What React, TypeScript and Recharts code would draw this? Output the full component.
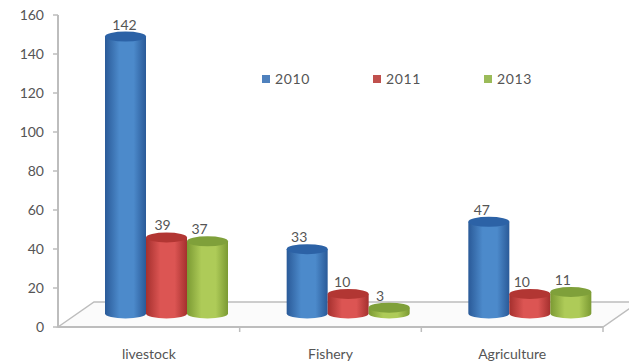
import { BarChart, Bar, XAxis, YAxis, Legend, LabelList, ReferenceArea } from "recharts"

const categories = ["livestock", "Fishery", "Agriculture"]
const years = ["2010", "2011", "2013"]
const values2010 = [142, 33, 47]
const values2011 = [39, 10, 10]
const values2013 = [37, 3, 11]
const yTicks = [0, 20, 40, 60, 80, 100, 120, 140, 160]

const data = categories.map((name, i) => ({
  name,
  "2010": values2010[i],
  "2011": values2011[i],
  "2013": values2013[i],
}))

const FONT = "Lato, sans-serif"
const TEXT = "#555"
const AXIS = "#bdbdbd"

// the floor is a parallelogram, bars stand halfway back on it
const FLOOR_VALUE = 13
const DEPTH_X = 36
const DEPTH_Y = 25
const SHIFT_X = DEPTH_X / 2
const SHIFT_Y = DEPTH_Y / 2 + 1
const RY = 5

const palette: Record<string, { id: string; key: string; edge: string; mid: string; top: string }> = {
  "2010": { id: "cylBlue", key: "#4f81bd", edge: "#2a5a98", mid: "#4c8acb", top: "#2c62a6" },
  "2011": { id: "cylRed", key: "#c0504d", edge: "#a5302e", mid: "#dc5553", top: "#b23633" },
  "2013": { id: "cylGreen", key: "#9bbb59", edge: "#7b9a33", mid: "#aecb58", top: "#7fa03a" },
}

// label nudges per category, the 3D labels don't sit quite centred
const labelNudge: Record<string, number[]> = {
  "2010": [-1, -8, -7],
  "2011": [-4, -6, -8],
  "2013": [-8, -9, -8],
}

const Cylinder = (year: string) => (props: any) => {
  const { x, y, width, height } = props
  const c = palette[year]
  const cx = x + SHIFT_X + width / 2
  const left = x + SHIFT_X
  const top = y - SHIFT_Y
  const bottom = y + height - SHIFT_Y
  const rx = width / 2
  return (
    <g>
      <path
        d={`M${left},${top} L${left},${bottom} A${rx},${RY} 0 0 0 ${left + width},${bottom} L${left + width},${top} Z`}
        fill={`url(#${c.id})`}
      />
      <ellipse cx={cx} cy={top} rx={rx} ry={RY} fill={c.top} />
    </g>
  )
}

const ValueLabel = (year: string) => (props: any) => {
  const { x, y, width, value, index } = props
  return (
    <text
      x={x + SHIFT_X + width / 2 + labelNudge[year][index]}
      y={y - SHIFT_Y - 7}
      textAnchor="middle"
      fontFamily={FONT}
      fontSize={14}
      fill={TEXT}
    >
      {value}
    </text>
  )
}

const Floor = (props: any) => {
  const { x, y, width, height } = props
  const front = y + height
  const back = front - DEPTH_Y
  const step = width / categories.length
  return (
    <g>
      <path
        d={`M${x},${front} L${x + DEPTH_X},${back} L${x + width + DEPTH_X},${back} L${x + width},${front} Z`}
        fill="#fbfbfb"
        stroke={AXIS}
        strokeWidth={1.5}
      />
      {categories.map((c, i) => (
        <line
          key={c}
          x1={x + step * (i + 1)}
          x2={x + step * (i + 1)}
          y1={front}
          y2={front + 5}
          stroke={AXIS}
          strokeWidth={1.5}
        />
      ))}
    </g>
  )
}

const LegendRow = ({ payload }: any) => (
  <div style={{ display: "flex", paddingLeft: 262 }}>
    {(payload || []).map((p: any) => (
      <div key={p.value} style={{ width: 111, display: "flex", alignItems: "center" }}>
        <span style={{ width: 8, height: 8, background: palette[p.value].key, marginRight: 5 }} />
        <span style={{ fontFamily: FONT, fontSize: 14, color: TEXT, letterSpacing: 0.6 }}>{p.value}</span>
      </div>
    ))}
  </div>
)

export default function App() {
  return (
    <div style={{ position: "absolute", left: 0, top: 0, width: 629, height: 363, background: "#fff", overflow: "hidden" }}>
      <BarChart
        width={629}
        height={363}
        data={data}
        margin={{ top: 15, right: 26, bottom: 6, left: 0 }}
        barCategoryGap={29}
        barGap={0}
        style={{ overflow: "visible" }}
      >
        <defs>
          {years.map((yr) => (
            <linearGradient key={yr} id={palette[yr].id} x1="0" y1="0" x2="1" y2="0">
              <stop offset="0%" stopColor={palette[yr].edge} />
              <stop offset="35%" stopColor={palette[yr].mid} />
              <stop offset="70%" stopColor={palette[yr].mid} />
              <stop offset="100%" stopColor={palette[yr].edge} />
            </linearGradient>
          ))}
        </defs>
        <XAxis
          dataKey="name"
          height={30}
          tickLine={false}
          axisLine={{ stroke: AXIS, strokeWidth: 2 }}
          tickMargin={16}
          tick={{ fontFamily: FONT, fontSize: 14, fill: TEXT }}
          interval={0}
        />
        <YAxis
          width={58}
          domain={[0, 160]}
          ticks={yTicks}
          interval={0}
          tickSize={5}
          tickMargin={9}
          tickLine={{ stroke: AXIS, strokeWidth: 1.5 }}
          axisLine={{ stroke: AXIS, strokeWidth: 2 }}
          tick={{ fontFamily: FONT, fontSize: 14, fill: TEXT }}
        />
        <ReferenceArea y1={0} y2={FLOOR_VALUE} shape={Floor} ifOverflow="visible" />
        <Legend
          layout="horizontal"
          verticalAlign="middle"
          content={LegendRow}
          wrapperStyle={{ left: 0, top: 70, width: 629 }}
        />
        {years.map((yr) => (
          <Bar key={yr} dataKey={yr} name={yr} fill={palette[yr].key} shape={Cylinder(yr)} isAnimationActive={false}>
            <LabelList dataKey={yr} content={ValueLabel(yr)} />
          </Bar>
        ))}
      </BarChart>
    </div>
  )
}
